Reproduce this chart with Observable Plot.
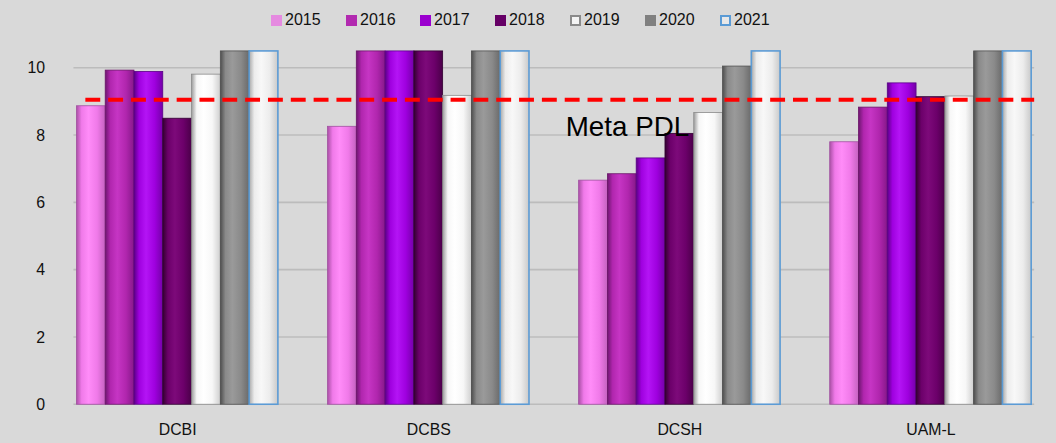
<!DOCTYPE html>
<html>
<head>
<meta charset="utf-8">
<script src="https://cdn.jsdelivr.net/npm/d3@7"></script>
<script src="https://cdn.jsdelivr.net/npm/@observablehq/plot@0.6"></script>
<style>
  html, body { margin: 0; padding: 0; background: #d9d9d9; overflow: hidden; width: 1056px; height: 443px; }
  body { font-family: "Liberation Sans", Arial, sans-serif; }
  #legend { position: relative; height: 40px; width: 1056px; }
  .item { position: absolute; top: 11px; display: flex; align-items: center; font-size: 16px; color: #111; }
  .sw { width: 11px; height: 11px; margin-right: 3px; box-sizing: border-box; }
  #chart svg { display: block; }
</style>
</head>
<body>
<div id="legend"></div>
<div id="chart"></div>
<script>
const categories = ["DCBI", "DCBS", "DCSH", "UAM-L"];
const years = ["2015", "2016", "2017", "2018", "2019", "2020", "2021"];
const v2015 = [8.87, 8.26, 6.66, 7.80];
const v2016 = [9.93, 10.5, 6.85, 8.83];
const v2017 = [9.89, 10.5, 7.32, 9.55];
const v2018 = [8.50, 10.5, 8.05, 9.14];
const v2019 = [9.81, 9.18, 8.67, 9.16];
const v2020 = [10.5, 10.5, 10.05, 10.5];
const v2021 = [10.5, 10.5, 10.5, 10.5];
const meta = 9.05;
const metaLabel = "Meta PDL";
const yTicks = [0, 2, 4, 6, 8, 10];

const series = [v2015, v2016, v2017, v2018, v2019, v2020, v2021];
const data = [];
categories.forEach((c, i) => years.forEach((y, j) => data.push({cat: c, year: y, value: series[j][i]})));

// style palettes: [left edge, highlight, body, right edge]
const shades = {
  "2015": ["#a94fa5", "#ff8cf8", "#f07ae9", "#c462c0"],
  "2016": ["#6e1670", "#c635c4", "#b126ae", "#86188a"],
  "2017": ["#5c0086", "#b414f5", "#9f00df", "#7400a8"],
  "2018": ["#320030", "#7d0a7a", "#6c006a", "#4a0048"],
  "2019": ["#9c9c9c", "#ffffff", "#f7f7f7", "#cfcfcf"],
  "2020": ["#4e4e4e", "#9a9a9a", "#8a8a8a", "#6a6a6a"],
  "2021": ["#a8a8a8", "#f8f8f8", "#ececec", "#c9c9c9"]
};
const swatch = {"2015": "#e58ae0", "2016": "#b22ab0", "2017": "#9b00cf", "2018": "#660066",
                "2019": "#f4f4f4", "2020": "#808080", "2021": "#e8e8e8"};
const swBorder = {"2019": "#8a8a8a", "2021": "#5b9bd5"};
const strokeC = {"2015": "#a050a0", "2016": "#6a1468", "2017": "#5a0088", "2018": "#300030",
                 "2019": "#8a8a8a", "2020": "#505050", "2021": "#5b9bd5"};

// legend
const legendPos = [271, 346, 420, 495, 570, 645, 720];
const legend = d3.select("#legend");
years.forEach((y, i) => {
  const it = legend.append("div").attr("class", "item").style("left", legendPos[i] + "px");
  const sw = it.append("div").attr("class", "sw").style("background", swatch[y]);
  if (swBorder[y]) sw.style("border", "2px solid " + swBorder[y]);
  it.append("span").text(y);
});

// full-width horizontal lines drawn once across all facets, positioned by the y scale
function hLines(values, attrs, startOffset) {
  return Plot.frame({
    facet: "super",
    render: (index, scales, channels, dims) => {
      const g = d3.create("svg:g");
      values.forEach(v => {
        const yy = scales.y(v);
        const ln = g.append("line")
          .attr("x1", dims.marginLeft + startOffset).attr("x2", dims.width - dims.marginRight)
          .attr("y1", yy).attr("y2", yy);
        Object.entries(attrs).forEach(([k, val]) => ln.attr(k, val));
      });
      return g.node();
    }
  });
}

const chart = Plot.plot({
  width: 1064,
  height: 403,
  marginLeft: 52,
  marginRight: 0,
  marginTop: 11,
  marginBottom: 36,
  style: {background: "#d9d9d9", fontFamily: "'Liberation Sans', Arial, sans-serif", fontSize: "16px", color: "#111"},
  fx: {domain: categories, paddingInner: 0.174, paddingOuter: 0.087, label: null},
  x: {domain: years, padding: 0, axis: null},
  y: {domain: [0, 10.5], ticks: yTicks, label: null},
  marks: [
    hLines(yTicks, {stroke: "#bcbcbc", "stroke-width": 1.6}, 0),
    Plot.barY(data, {fx: "cat", x: "year", y: "value",
      fill: d => `url(#g${d.year})`,
      stroke: d => strokeC[d.year],
      strokeWidth: d => d.year === "2021" ? 1.6 : 0.8}),
    hLines([meta], {stroke: "#ff0000", "stroke-width": 4, "stroke-dasharray": "15 8"}, 12),
    Plot.text([metaLabel], {fx: ["DCSH"], x: ["2015"], y: [8.25], text: d => d,
      textAnchor: "start", dx: -28, fontSize: 28, fill: "#000"}),
    Plot.axisY({ticks: yTicks, tickSize: 0, tickPadding: 19, dx: -10, fontSize: 16, label: null}),
    Plot.axisFx({anchor: "bottom", tickSize: 0, tickPadding: 19, fontSize: 16, label: null})
  ]
});

// gradient defs (cylinder shading) placed inside the chart svg
const defs = d3.select(chart).insert("defs", ":first-child");
years.forEach(y => {
  const [l, h, b, r] = shades[y];
  const g = defs.append("linearGradient").attr("id", "g" + y)
    .attr("x1", "0%").attr("x2", "100%").attr("y1", "0%").attr("y2", "0%");
  [[0, l], [18, b], [42, h], [72, b], [100, r]].forEach(([o, c]) =>
    g.append("stop").attr("offset", o + "%").attr("stop-color", c));
});
document.getElementById("chart").appendChild(chart);
</script>
</body>
</html>
